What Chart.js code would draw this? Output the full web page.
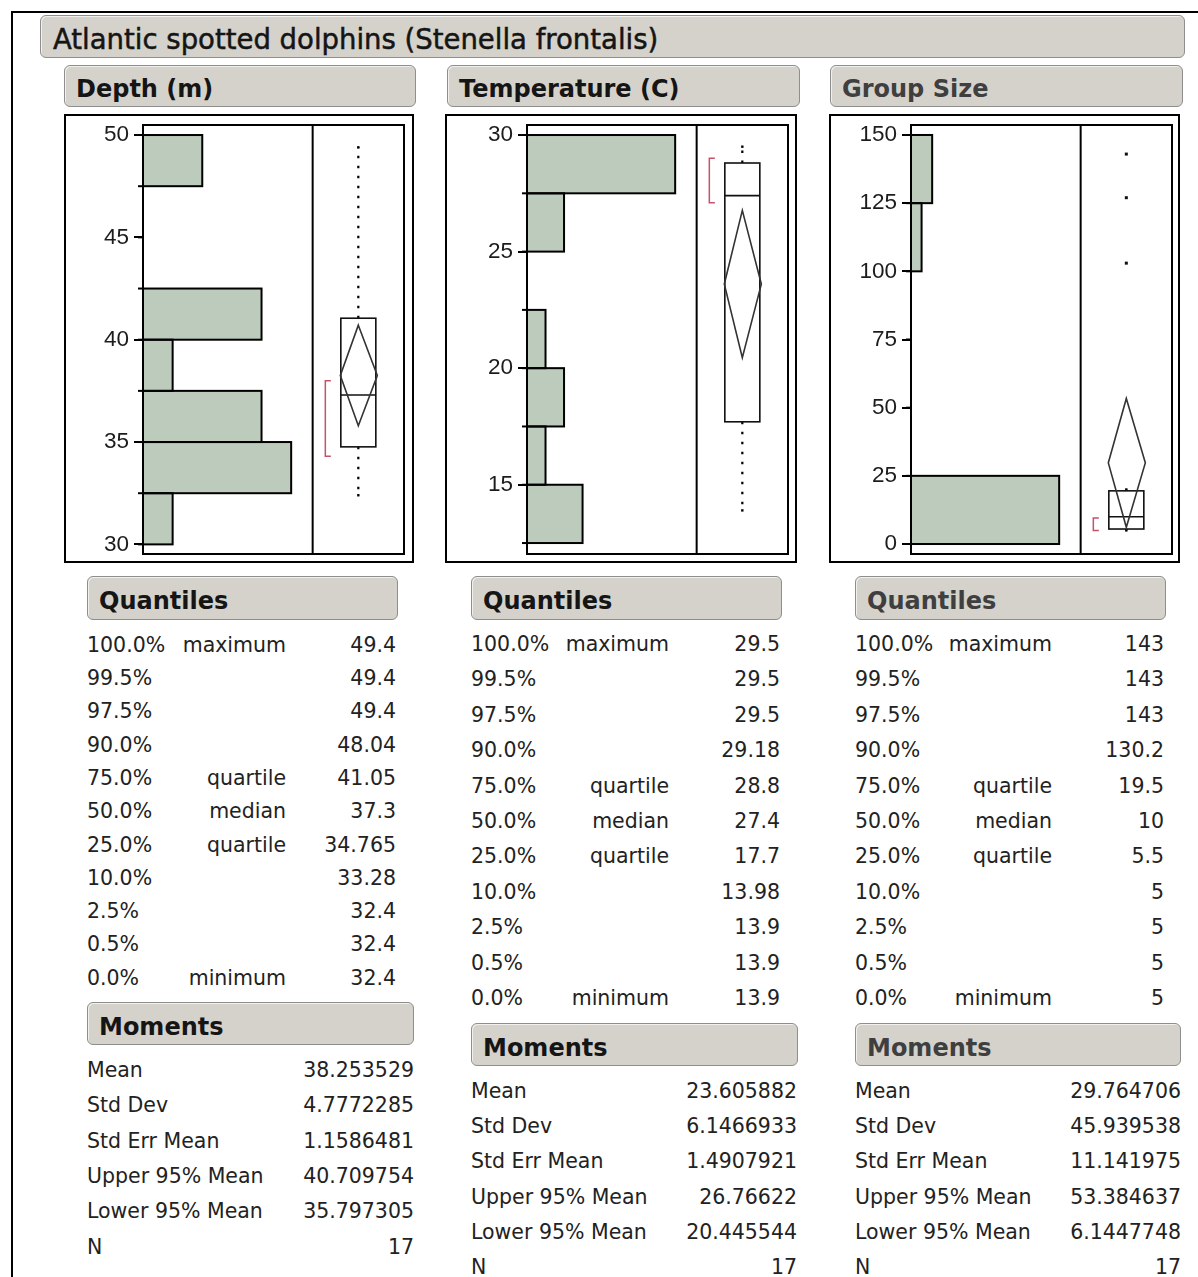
<!DOCTYPE html>
<html><head><meta charset="utf-8">
<script src="https://cdn.jsdelivr.net/npm/chart.js@4/dist/chart.umd.min.js"></script>
<style>
html,body{margin:0;padding:0;background:#fff;}
body{width:1198px;height:1277px;position:relative;overflow:hidden;font-family:"DejaVu Sans",sans-serif;color:#222;}
.pageframe{position:absolute;left:11px;top:11px;width:1300px;height:1400px;border-left:2px solid #000;border-top:2px solid #000;}
.hbar{position:absolute;box-sizing:border-box;background:#d5d2cb;border:1.5px solid #8e8e8e;border-radius:6px;box-shadow:inset 1px 1px 0 #f2f0ec;white-space:nowrap;display:flex;align-items:center;font-family:"DejaVu Sans",sans-serif;color:#151515;}
.hbar.title{font-size:27.5px;font-weight:normal;padding-left:12px;padding-top:5px;-webkit-text-stroke:0.5px #151515;}
.hbar.sub{font-size:24px;font-weight:bold;padding-left:11px;padding-top:6px;}
.hbar.gray{color:#3f3f3f;}
.frame{position:absolute;box-sizing:border-box;border:2px solid #000;}
canvas{position:absolute;}
.t{position:absolute;font-family:"DejaVu Sans",sans-serif;font-size:20.5px;line-height:24px;height:24px;white-space:nowrap;color:#222;}
.r{text-align:right;}
</style>
</head><body>
<div class="pageframe"></div>
<div id="root"></div>
<script>
// ---------------- data ----------------
const chartTitle = 'Atlantic spotted dolphins (Stenella frontalis)';
const panelTitles = ['Depth (m)', 'Temperature (C)', 'Group Size'];
const quantilesTitle = 'Quantiles';
const momentsTitle = 'Moments';
const quantileLevels = ['100.0%','99.5%','97.5%','90.0%','75.0%','50.0%','25.0%','10.0%','2.5%','0.5%','0.0%'];
const quantileNames = ['maximum','','','','quartile','median','quartile','','','','minimum'];
const momentNames = ['Mean','Std Dev','Std Err Mean','Upper 95% Mean','Lower 95% Mean','N'];

// Depth (m)
const depthBinCenters = [31.25, 33.75, 36.25, 38.75, 41.25, 43.75, 46.25, 48.75];
const depthCounts = [1, 5, 4, 1, 4, 0, 0, 2];
const depthBinEdges = [30, 32.5, 35, 37.5, 40, 42.5, 45, 47.5, 50];
const depthTicks = [30, 35, 40, 45, 50];
const depthRange = [29.53, 50.49];
const depthQuartiles = [34.765, 37.3, 41.05];
const depthWhiskers = [32.4, 49.4];
const depthMeanCI = [35.797305, 38.253529, 40.709754];
const depthShortestHalf = [34.3, 38.0];
const depthOutliers = [];
const depthQuantileValues = ['49.4','49.4','49.4','48.04','41.05','37.3','34.765','33.28','32.4','32.4','32.4'];
const depthMomentValues = ['38.253529','4.7772285','1.1586481','40.709754','35.797305','17'];

// Temperature (C)
const tempBinCenters = [13.75, 16.25, 18.75, 21.25, 23.75, 26.25, 28.75];
const tempCounts = [3, 1, 2, 1, 0, 2, 8];
const tempBinEdges = [12.5, 15, 17.5, 20, 22.5, 25, 27.5, 30];
const tempTicks = [15, 20, 25, 30];
const tempRange = [12.03, 30.43];
const tempQuartiles = [17.7, 27.4, 28.8];
const tempWhiskers = [13.9, 29.5];
const tempMeanCI = [20.445544, 23.605882, 26.76622];
const tempShortestHalf = [27.1, 29.0];
const tempOutliers = [];
const tempQuantileValues = ['29.5','29.5','29.5','29.18','28.8','27.4','17.7','13.98','13.9','13.9','13.9'];
const tempMomentValues = ['23.605882','6.1466933','1.4907921','26.76622','20.445544','17'];

// Group Size
const groupBinCenters = [12.5, 37.5, 62.5, 87.5, 112.5, 137.5];
const groupCounts = [14, 0, 0, 0, 1, 2];
const groupBinEdges = [0, 25, 50, 75, 100, 125, 150];
const groupTicks = [0, 25, 50, 75, 100, 125, 150];
const groupRange = [-3.66, 153.66];
const groupQuartiles = [5.5, 10, 19.5];
const groupWhiskers = [5, 20];
const groupMeanCI = [6.1447748, 29.764706, 53.384637];
const groupShortestHalf = [5, 9.5];
const groupOutliers = [103, 127, 143];
const groupQuantileValues = ['143','143','143','130.2','19.5','10','5.5','5','5','5','5'];
const groupMomentValues = ['29.764706','45.939538','11.141975','53.384637','6.1447748','17'];

// ---------------- layout (page positions) ----------------
const layout = [
  {hdr:[64,65,352,42], frame:[64,114,350,449], chartLeft:143,
   qbar:[87,576,311,44], qRow0:644.7, qStep:33.3, pctLeft:87, nameRight:286, qValRight:396,
   mbar:[87,1002,327,43], mRow0:1070, mStep:35.3, mLeft:87, mValRight:414, gray:false},
  {hdr:[447,65,353,42], frame:[445,114,352,449], chartLeft:527,
   qbar:[471,576,311,44], qRow0:644, qStep:35.4, pctLeft:471, nameRight:669, qValRight:780,
   mbar:[471,1023,327,43], mRow0:1091, mStep:35.2, mLeft:471, mValRight:797, gray:false},
  {hdr:[830,65,353,42], frame:[829,114,351,449], chartLeft:911,
   qbar:[855,576,311,44], qRow0:644, qStep:35.4, pctLeft:855, nameRight:1052, qValRight:1164,
   mbar:[855,1023,326,43], mRow0:1091, mStep:35.2, mLeft:855, mValRight:1181, gray:true}
];

const panels = [
  {centers:depthBinCenters, counts:depthCounts, edges:depthBinEdges, ticks:depthTicks, range:depthRange,
   quart:depthQuartiles, whisk:depthWhiskers, mean:depthMeanCI, sh:depthShortestHalf, out:depthOutliers,
   qv:depthQuantileValues, mv:depthMomentValues},
  {centers:tempBinCenters, counts:tempCounts, edges:tempBinEdges, ticks:tempTicks, range:tempRange,
   quart:tempQuartiles, whisk:tempWhiskers, mean:tempMeanCI, sh:tempShortestHalf, out:tempOutliers,
   qv:tempQuantileValues, mv:tempMomentValues},
  {centers:groupBinCenters, counts:groupCounts, edges:groupBinEdges, ticks:groupTicks, range:groupRange,
   quart:groupQuartiles, whisk:groupWhiskers, mean:groupMeanCI, sh:groupShortestHalf, out:groupOutliers,
   qv:groupQuantileValues, mv:groupMomentValues}
];

const root = document.getElementById('root');
function el(cls, box, text) {
  const d = document.createElement('div');
  d.className = cls;
  if (box) { d.style.left = box[0]+'px'; d.style.top = box[1]+'px'; d.style.width = box[2]+'px'; d.style.height = box[3]+'px'; }
  if (text !== undefined) d.textContent = text;
  root.appendChild(d);
  return d;
}
function txt(text, left, cy, alignRight) {
  const d = document.createElement('div');
  d.className = 't' + (alignRight ? ' r' : '');
  d.textContent = text;
  d.style.top = (cy - 12) + 'px';
  if (alignRight) { d.style.left = (left - 200) + 'px'; d.style.width = '200px'; }
  else d.style.left = left + 'px';
  root.appendChild(d);
}

el('hbar title', [40,15,1145,43], chartTitle);

const HIST_FRAC = 0.65, BOX_CENTER = 0.825, HIST_PAD = 1.145;

function jmpPlugin(p) {
  return {
    id: 'jmp',
    afterDatasetsDraw(chart) {
      const ctx = chart.ctx, a = chart.chartArea, y = chart.scales.y, xb = chart.scales.xb;
      ctx.save();
      ctx.strokeStyle = '#000'; ctx.lineWidth = 2;
      // bar outlines
      chart.getDatasetMeta(0).data.forEach(b => {
        ctx.strokeRect(b.base, b.y - b.height/2, b.x - b.base, b.height);
      });
      // bin edge marks
      p.edges.forEach(v => {
        const py = y.getPixelForValue(v);
        ctx.beginPath(); ctx.moveTo(a.left - 5, py); ctx.lineTo(a.left, py); ctx.stroke();
      });
      // frame and divider
      ctx.strokeRect(a.left, a.top, a.right - a.left, a.bottom - a.top);
      const dx = xb.getPixelForValue(HIST_FRAC);
      ctx.beginPath(); ctx.moveTo(dx, a.top); ctx.lineTo(dx, a.bottom); ctx.stroke();
      // box plot
      const cx = xb.getPixelForValue(BOX_CENTER);
      const hw = 17.5;
      const yq1 = y.getPixelForValue(p.quart[0]), ymed = y.getPixelForValue(p.quart[1]), yq3 = y.getPixelForValue(p.quart[2]);
      // whiskers (dotted)
      ctx.save();
      ctx.lineWidth = 2.2; ctx.setLineDash([2.5, 7.5]);
      ctx.beginPath();
      ctx.moveTo(cx, yq3); ctx.lineTo(cx, y.getPixelForValue(p.whisk[1]));
      ctx.moveTo(cx, yq1); ctx.lineTo(cx, y.getPixelForValue(p.whisk[0]));
      ctx.stroke();
      ctx.restore();
      ctx.fillStyle = '#000';
      [p.whisk[0], p.whisk[1]].forEach(v => { ctx.fillRect(cx - 1.2, y.getPixelForValue(v) - 1.2, 2.4, 2.4); });
      // box
      ctx.lineWidth = 1.6; ctx.strokeStyle = '#111';
      ctx.strokeRect(cx - hw, yq3, 2*hw, yq1 - yq3);
      ctx.beginPath(); ctx.moveTo(cx - hw, ymed); ctx.lineTo(cx + hw, ymed); ctx.stroke();
      // mean diamond
      const ylo = y.getPixelForValue(p.mean[0]), ym = y.getPixelForValue(p.mean[1]), yhi = y.getPixelForValue(p.mean[2]);
      ctx.strokeStyle = '#333'; ctx.lineWidth = 1.6;
      ctx.beginPath();
      ctx.moveTo(cx, yhi); ctx.lineTo(cx + hw + 1.5, ym); ctx.lineTo(cx, ylo); ctx.lineTo(cx - hw - 0.5, ym); ctx.closePath();
      ctx.stroke();
      // shortest half bracket
      const bx = cx - 33;
      const ys0 = y.getPixelForValue(p.sh[0]), ys1 = y.getPixelForValue(p.sh[1]);
      ctx.strokeStyle = '#c8506c'; ctx.lineWidth = 1.5;
      ctx.beginPath();
      ctx.moveTo(bx + 5.5, ys1); ctx.lineTo(bx, ys1); ctx.lineTo(bx, ys0); ctx.lineTo(bx + 5.5, ys0);
      ctx.stroke();
      // outliers
      ctx.fillStyle = '#111';
      p.out.forEach(v => { const py = y.getPixelForValue(v); ctx.fillRect(cx - 1.5, py - 1.5, 3, 3); });
      ctx.restore();
    }
  };
}

panels.forEach((p, i) => {
  const L = layout[i];
  el('hbar sub' + (L.gray ? ' gray' : ''), L.hdr, panelTitles[i]);
  el('frame', L.frame);
  const cv = document.createElement('canvas');
  cv.width = 352; cv.height = 460;
  cv.style.left = (L.chartLeft - 83) + 'px'; cv.style.top = '105px';
  root.appendChild(cv);
  const maxCount = Math.max.apply(null, p.counts);
  new Chart(cv, {
    type: 'bar',
    data: { datasets: [{
      data: p.centers.map((c, k) => ({x: p.counts[k], y: c})).filter(o => o.x > 0),
      backgroundColor: '#bdcbbc', borderWidth: 0,
      barPercentage: 1, categoryPercentage: 1,
      xAxisID: 'x', yAxisID: 'y'
    }]},
    options: {
      indexAxis: 'y', responsive: false, animation: false, events: [],
      layout: { padding: {top: 20, right: 8, bottom: 11, left: 0} },
      plugins: { legend: {display: false}, tooltip: {enabled: false} },
      scales: {
        x: { type: 'linear', min: 0, max: maxCount * HIST_PAD / HIST_FRAC, display: false },
        xb: { type: 'linear', axis: 'x', min: 0, max: 1, display: false },
        y: {
          type: 'linear', position: 'left', min: p.range[0], max: p.range[1],
          offset: false,
          afterBuildTicks: ax => { ax.ticks = p.ticks.map(v => ({value: v})); },
          afterFit: ax => { ax.width = 83; ax.paddingTop = 0; ax.paddingBottom = 0; },
          ticks: { padding: 5, color: '#1c1c1c', autoSkip: false,
                   font: {family: 'Liberation Sans', size: 22.5},
                   callback: v => String(v) },
          grid: { offset: false, drawOnChartArea: false, drawTicks: true, tickLength: 9, color: '#000', lineWidth: 2 },
          border: { display: false }
        }
      }
    },
    plugins: [jmpPlugin(p)]
  });

  // Quantiles table
  el('hbar sub' + (L.gray ? ' gray' : ''), L.qbar, quantilesTitle);
  quantileLevels.forEach((q, k) => {
    const cy = L.qRow0 + k * L.qStep;
    txt(q, L.pctLeft, cy, false);
    if (quantileNames[k]) txt(quantileNames[k], L.nameRight, cy, true);
    txt(p.qv[k], L.qValRight, cy, true);
  });
  // Moments table
  el('hbar sub' + (L.gray ? ' gray' : ''), L.mbar, momentsTitle);
  momentNames.forEach((m, k) => {
    const cy = L.mRow0 + k * L.mStep;
    txt(m, L.mLeft, cy, false);
    txt(p.mv[k], L.mValRight, cy, true);
  });
});
</script>
</body></html>
